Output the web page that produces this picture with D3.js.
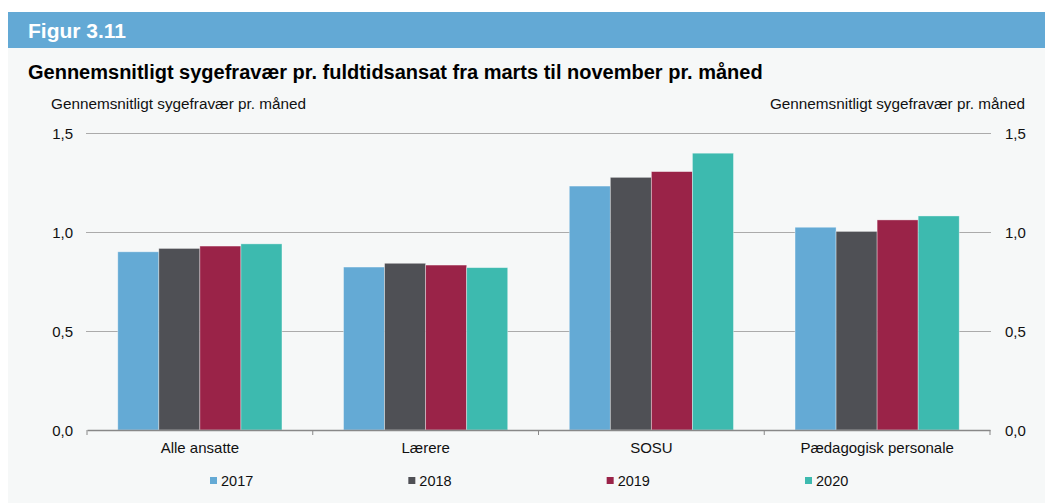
<!DOCTYPE html>
<html>
<head>
<meta charset="utf-8">
<script src="https://cdn.jsdelivr.net/npm/d3@7"></script>
<style>
  html, body { margin: 0; padding: 0; background: #fff; }
  svg { display: block; font-family: "Liberation Sans", Arial, Helvetica, sans-serif; }
</style>
</head>
<body>
<script>
const categories = ["Alle ansatte", "Lærere", "SOSU", "Pædagogisk personale"];
const years = ["2017", "2018", "2019", "2020"];
const v2017 = [0.90, 0.823, 1.232, 1.024];
const v2018 = [0.917, 0.842, 1.276, 1.003];
const v2019 = [0.929, 0.833, 1.305, 1.061];
const v2020 = [0.940, 0.820, 1.398, 1.081];
const yTicks = [0, 0.5, 1.0, 1.5];
const colors = ["#64aad5", "#4f5055", "#9a2348", "#3dbaaf"];

const series = [v2017, v2018, v2019, v2020];

const W = 1053, H = 503;
const plot = { l: 87, r: 990, t: 133, b: 430 };
const fs = 15;

const svg = d3.select("body").append("svg")
  .attr("width", W).attr("height", H);

// header + panel
svg.append("rect").attr("x", 8).attr("y", 48).attr("width", 1037).attr("height", H - 48)
  .attr("fill", "#f6f8f8");
svg.append("rect").attr("x", 8).attr("y", 12).attr("width", 1037).attr("height", 36)
  .attr("fill", "#63a9d5");
svg.append("text").attr("x", 28).attr("y", 38)
  .attr("fill", "#fff").attr("font-weight", "bold").attr("font-size", 21)
  .text("Figur 3.11");
svg.append("text").attr("x", 28).attr("y", 78.5)
  .attr("fill", "#000").attr("font-weight", "bold").attr("font-size", 20)
  .text("Gennemsnitligt sygefravær pr. fuldtidsansat fra marts til november pr. måned");

svg.append("text").attr("x", 51).attr("y", 109).attr("font-size", 15.3).attr("fill", "#111")
  .text("Gennemsnitligt sygefravær pr. måned");
svg.append("text").attr("x", 1025).attr("y", 109).attr("font-size", 15.3).attr("fill", "#111")
  .attr("text-anchor", "end")
  .text("Gennemsnitligt sygefravær pr. måned");

const y = d3.scaleLinear().domain([0, 1.5]).range([plot.b, plot.t]);
const x0 = d3.scaleBand().domain(categories).range([plot.l, plot.r]).paddingInner(0).paddingOuter(0);
const x1 = d3.scaleBand().domain(years).range([0, x0.bandwidth()]).paddingInner(0).paddingOuter(0.75);

const fmt = d => d3.format(".1f")(d).replace(".", ",");

// gridlines
svg.append("g").selectAll("line").data(yTicks.filter(d => d > 0)).join("line")
  .attr("x1", plot.l - 1).attr("x2", plot.r + 1)
  .attr("y1", d => Math.round(y(d)) + 0.5).attr("y2", d => Math.round(y(d)) + 0.5)
  .attr("stroke", "#ababab").attr("stroke-width", 1);

// tick labels left/right
svg.append("g").selectAll("text").data(yTicks).join("text")
  .attr("x", 73).attr("y", d => y(d) + 5.5)
  .attr("text-anchor", "end").attr("font-size", fs).attr("fill", "#111")
  .text(fmt);
svg.append("g").selectAll("text").data(yTicks).join("text")
  .attr("x", 1005).attr("y", d => y(d) + 5.5)
  .attr("text-anchor", "start").attr("font-size", fs).attr("fill", "#111")
  .text(fmt);

// bars
const groups = svg.append("g").selectAll("g").data(categories).join("g")
  .attr("transform", c => `translate(${x0(c)},0)`);
groups.selectAll("rect")
  .data((c, i) => years.map((yr, j) => ({ yr, j, v: series[j][i] })))
  .join("rect")
  .attr("x", d => x1(d.yr))
  .attr("width", x1.bandwidth())
  .attr("y", d => y(d.v))
  .attr("height", d => y(0) - y(d.v))
  .attr("fill", d => colors[d.j])
  .attr("stroke", "rgba(255,255,255,0.45)")
  .attr("stroke-width", 0.8);

// x axis
const xAxis = d3.axisBottom(x0).tickSize(0).tickPadding(12);
const gx = svg.append("g").attr("transform", `translate(0,${plot.b})`).call(xAxis);
gx.select(".domain").attr("stroke", "#888").attr("stroke-width", 1.5);
gx.selectAll("text").attr("font-size", fs).attr("fill", "#111")
  .attr("font-family", "Liberation Sans, Arial, sans-serif");
// boundary ticks
const bounds = categories.map(c => x0(c)).concat([plot.r]);
svg.append("g").selectAll("line").data(bounds).join("line")
  .attr("x1", d => d).attr("x2", d => d)
  .attr("y1", plot.b).attr("y2", plot.b + 5)
  .attr("stroke", "#888").attr("stroke-width", 1);

// legend
const lx = d3.scalePoint().domain(years).range([210, 805]);
const lg = svg.append("g").selectAll("g").data(years).join("g")
  .attr("transform", d => `translate(${lx(d)},477)`);
lg.append("rect").attr("width", 7).attr("height", 7)
  .attr("fill", (d, i) => colors[i]);
lg.append("text").attr("x", 11).attr("y", 9).attr("font-size", 14.5).attr("fill", "#111")
  .text(d => d);
</script>
</body>
</html>
